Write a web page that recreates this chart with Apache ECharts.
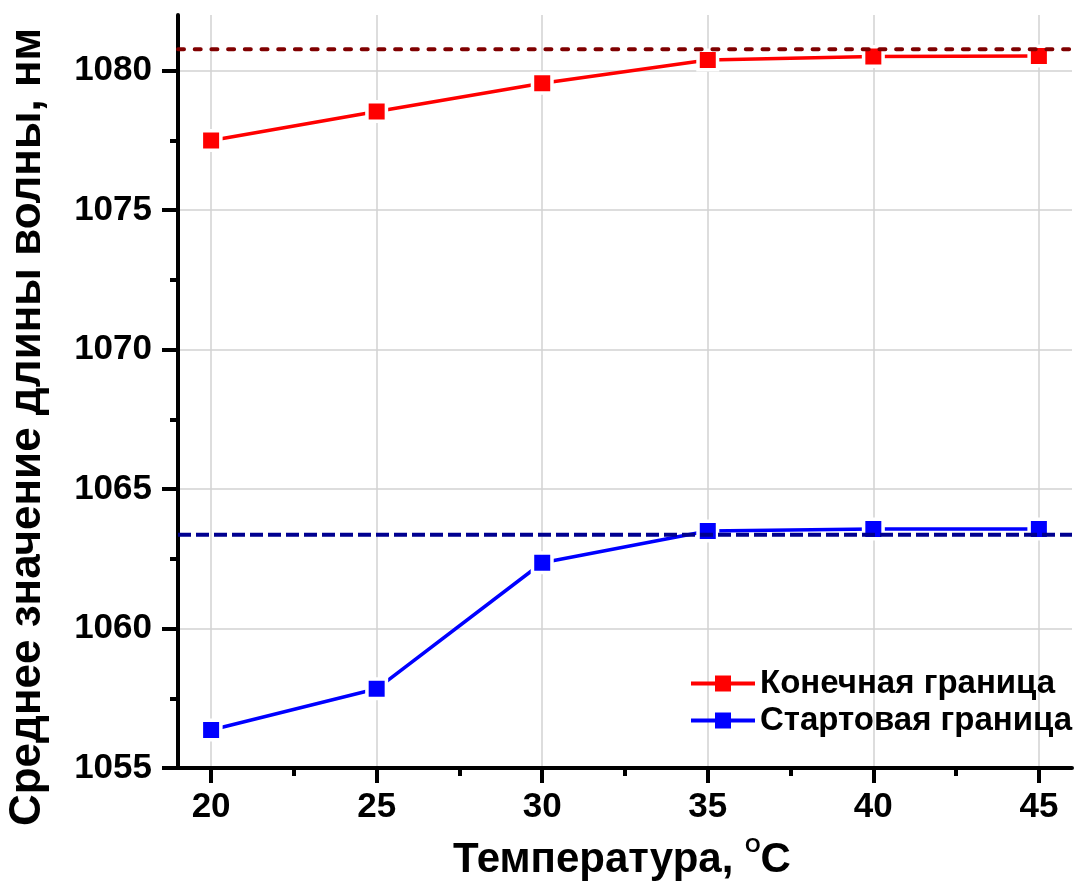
<!DOCTYPE html>
<html>
<head>
<meta charset="utf-8">
<script src="https://cdn.jsdelivr.net/npm/echarts@6/dist/echarts.min.js"></script>
<style>
  html, body { margin: 0; padding: 0; background: #ffffff; }
  #chart { width: 1090px; height: 884px; }
</style>
</head>
<body>
<div id="chart"></div>
<script>
// Mean wavelength of the band edges versus temperature
const temperatures = [20, 25, 30, 35, 40, 45];
const endBoundary = [1077.50, 1078.54, 1079.55, 1080.39, 1080.51, 1080.53];
const startBoundary = [1056.36, 1057.84, 1062.36, 1063.50, 1063.57, 1063.57];
const endLevel = 1080.77;
const startLevel = 1063.36;
const seriesNames = ['Конечная граница', 'Стартовая граница'];

const xRange = [19, 46];
const yRange = [1055, 1082];
const xMajorTicks = [20, 25, 30, 35, 40, 45];
const xMinorTicks = [22.5, 27.5, 32.5, 37.5, 42.5];
const yMajorTicks = [1055, 1060, 1065, 1070, 1075, 1080];
const yMinorTicks = [1057.5, 1062.5, 1067.5, 1072.5, 1077.5];

const xTitle = 'Температура, ';
const xTitleSup = 'O';
const xTitleUnit = 'C';
const yTitle = 'Среднее значение длины волны, нм';

const FONT = 'Liberation Sans, Arial, sans-serif';
const tickFont = { fontFamily: FONT, fontWeight: 'bold', fontSize: 35, color: '#000' };
const AXIS_W = 4;

function pairs(xs, ys) { return xs.map((x, i) => [x, ys[i]]); }

const chart = echarts.init(document.getElementById('chart'), null, { renderer: 'canvas' });

const majorAxisX = {
  type: 'value', min: xRange[0], max: xRange[1], position: 'bottom',
  axisLine: { show: true, onZero: false, lineStyle: { color: '#000', width: AXIS_W } },
  axisTick: { show: true, inside: false, length: 15, customValues: xMajorTicks, lineStyle: { color: '#000', width: AXIS_W } },
  axisLabel: Object.assign({ show: true, margin: 22, customValues: xMajorTicks, formatter: v => String(v) }, tickFont),
  splitLine: { show: true, lineStyle: { color: '#d2d2d2', width: 1.5 } }
};
const minorAxisX = {
  type: 'value', min: xRange[0], max: xRange[1], position: 'bottom',
  axisLine: { show: false },
  axisTick: { show: true, inside: false, length: 8, customValues: xMinorTicks, lineStyle: { color: '#000', width: AXIS_W } },
  axisLabel: { show: false },
  splitLine: { show: false }
};
const majorAxisY = {
  type: 'value', min: yRange[0], max: yRange[1], position: 'left',
  axisLine: { show: true, onZero: false, lineStyle: { color: '#000', width: AXIS_W } },
  axisTick: { show: true, inside: false, length: 16, customValues: yMajorTicks, lineStyle: { color: '#000', width: AXIS_W } },
  axisLabel: Object.assign({ show: true, margin: 26, customValues: yMajorTicks, formatter: v => String(v) }, tickFont),
  splitLine: { show: true, lineStyle: { color: '#d2d2d2', width: 1.5 } }
};
const minorAxisY = {
  type: 'value', min: yRange[0], max: yRange[1], position: 'left',
  axisLine: { show: false },
  axisTick: { show: true, inside: false, length: 8, customValues: yMinorTicks, lineStyle: { color: '#000', width: AXIS_W } },
  axisLabel: { show: false },
  splitLine: { show: false }
};

// Markers carry a thin white ring so the connecting line stops short of them
function dataSeries(name, values, color) {
  return {
    name: name, type: 'line', xAxisIndex: 0, yAxisIndex: 0,
    data: pairs(temperatures, values),
    symbol: 'rect', symbolSize: 19.5,
    itemStyle: { color: color, borderColor: '#ffffff', borderWidth: 3.5 },
    lineStyle: { color: color, width: 3.5 },
    z: 3, animation: false
  };
}
function levelSeries(level, color, dash, cap) {
  return {
    type: 'line', xAxisIndex: 0, yAxisIndex: 0,
    data: [[xRange[0], level], [xRange[1], level]],
    symbol: 'none', silent: true,
    lineStyle: { color: color, width: 4, type: dash, cap: cap },
    z: 5, animation: false
  };
}

chart.setOption({
  animation: false,
  backgroundColor: '#ffffff',
  grid: { left: 178, right: 18, top: 15, bottom: 116, containLabel: false },
  xAxis: [majorAxisX, minorAxisX],
  yAxis: [majorAxisY, minorAxisY],
  legend: {
    data: seriesNames,
    orient: 'vertical', left: 684, top: 662,
    itemWidth: 64, itemHeight: 20, itemGap: 4,
    itemStyle: { borderWidth: 0 },
    lineStyle: { width: 4 },
    textStyle: { fontFamily: FONT, fontWeight: 'bold', fontSize: 33, color: '#000' }
  },
  graphic: [
    {
      type: 'text', x: 28, y: 427, rotation: Math.PI / 2, silent: true,
      style: { text: yTitle, fontFamily: FONT, fontWeight: 'bold', fontSize: 44, fill: '#000',
               align: 'center', verticalAlign: 'middle' }
    },
    {
      type: 'text', x: 622, y: 860, silent: true,
      style: {
        text: xTitle + '{sup|' + xTitleSup + '}' + xTitleUnit,
        fontFamily: FONT, fontWeight: 'bold', fontSize: 42, lineHeight: 48, fill: '#000',
        align: 'center', verticalAlign: 'middle',
        rich: { sup: { fontFamily: FONT, fontWeight: 'bold', fontSize: 20, lineHeight: 6, fill: '#000', verticalAlign: 'top' } }
      }
    }
  ],
  series: [
    dataSeries(seriesNames[0], endBoundary, '#ff0000'),
    dataSeries(seriesNames[1], startBoundary, '#0000ff'),
    levelSeries(endLevel, '#800000', [6, 10.7], 'round'),
    levelSeries(startLevel, '#000090', [13, 5], 'butt')
  ]
});
</script>
</body>
</html>
